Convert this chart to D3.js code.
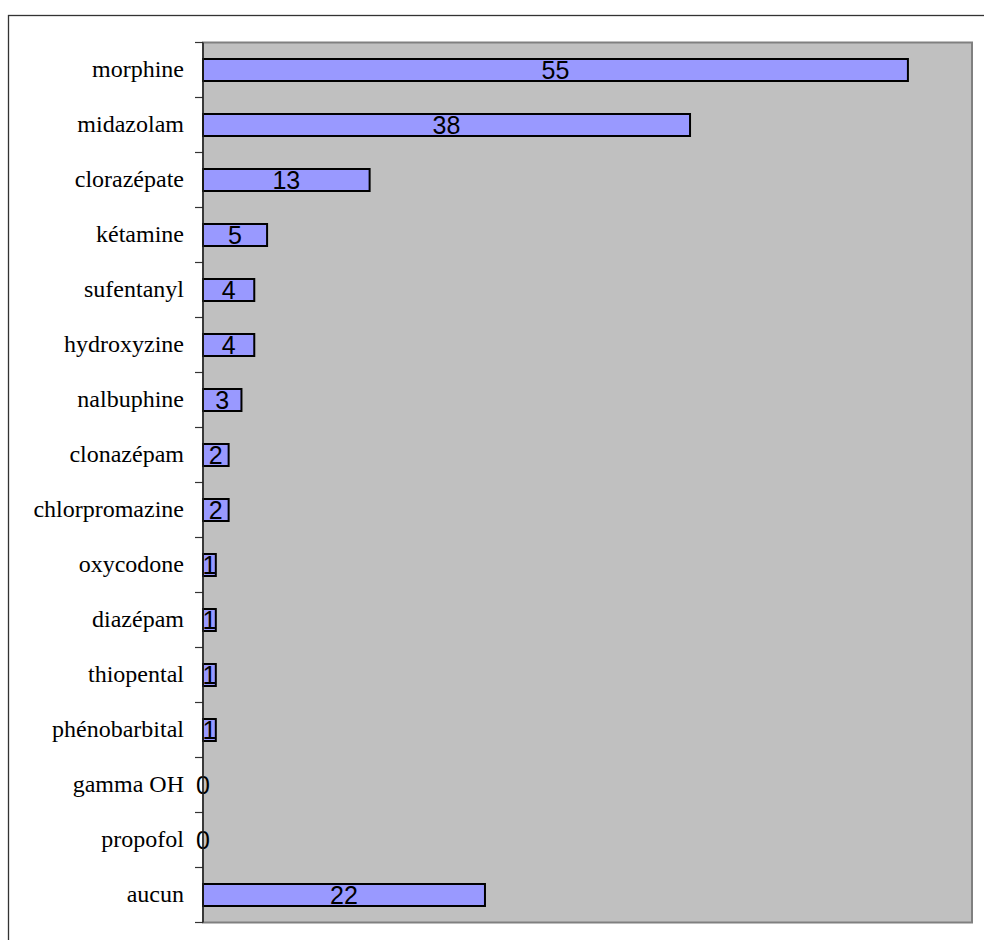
<!DOCTYPE html>
<html>
  <head>
    <meta charset="utf-8" />
    <script src="https://cdn.jsdelivr.net/npm/d3@7"></script>
    <style>
      body { margin: 0; background: #ffffff; }
      .frame { fill: none; stroke: #333333; stroke-width: 1.3; }
      .plot { fill: #c0c0c0; stroke: #808080; stroke-width: 2; }
      .bar { fill: #9999ff; stroke: #000000; stroke-width: 2; }
      .cat text { font-family: "Liberation Serif", "Times New Roman", serif; font-size: 24px; fill: #000; }
      .val { font-family: "Liberation Sans", Arial, sans-serif; font-size: 25px; fill: #000; }
    </style>
  </head>
  <body>
    <div id="chart"></div>
    <script type="text/javascript">
      var w = 984, h = 940;

      var categories = ["morphine", "midazolam", "clorazépate", "kétamine", "sufentanyl",
        "hydroxyzine", "nalbuphine", "clonazépam", "chlorpromazine", "oxycodone",
        "diazépam", "thiopental", "phénobarbital", "gamma OH", "propofol", "aucun"];
      var values = [55, 38, 13, 5, 4, 4, 3, 2, 2, 1, 1, 1, 1, 0, 0, 22];
      var xDomain = [0, 60];

      var plotLeft = 203, plotRight = 972, plotTop = 42.5, plotBottom = 922.5;

      var svg = d3.select("#chart")
        .append("svg")
        .attr("width", w)
        .attr("height", h);

      svg.append("rect")
        .attr("class", "frame")
        .attr("x", 8.5).attr("y", 15.5)
        .attr("width", 990).attr("height", 960);

      var x = d3.scaleLinear().domain(xDomain).range([plotLeft, plotRight]);
      var y = d3.scaleBand().domain(categories).range([plotTop, plotBottom])
        .paddingInner(0.6).paddingOuter(0.3);

      svg.append("rect")
        .attr("class", "plot")
        .attr("x", plotLeft).attr("y", plotTop)
        .attr("width", plotRight - plotLeft).attr("height", plotBottom - plotTop);

      var rows = categories.map(function(c, i) { return { name: c, value: values[i] }; });

      svg.selectAll("rect.bar").data(rows.filter(function(d) { return d.value > 0; }))
        .enter()
        .append("rect")
        .attr("class", "bar")
        .attr("x", x(0))
        .attr("y", function(d) { return y(d.name); })
        .attr("width", function(d) { return x(d.value) - x(0); })
        .attr("height", y.bandwidth());

      svg.selectAll("text.val").data(rows)
        .enter()
        .append("text")
        .attr("class", "val")
        .attr("text-anchor", "middle")
        .attr("x", function(d) { return (x(0) + x(d.value)) / 2; })
        .attr("y", function(d) { return y(d.name) + y.bandwidth() / 2; })
        .attr("dy", "0.36em")
        .text(function(d) { return d.value; });

      // category labels
      var axis = svg.append("g")
        .attr("class", "cat")
        .attr("transform", "translate(" + plotLeft + ",0)")
        .call(d3.axisLeft(y).tickSize(0).tickPadding(19));
      axis.select(".domain").remove();
      axis.selectAll("text").attr("dy", "0.3em");

      // ticks at band boundaries
      var half = (y.step() - y.bandwidth()) / 2;
      var bounds = categories.map(function(c) { return y(c) - half; }).concat([plotBottom]);
      svg.selectAll("line.tick").data(bounds)
        .enter()
        .append("line")
        .attr("x1", plotLeft - 8).attr("x2", plotLeft)
        .attr("y1", function(d) { return d; })
        .attr("y2", function(d) { return d; })
        .attr("stroke", "#333")
        .attr("stroke-width", 1.2);

      svg.append("line")
        .attr("x1", plotLeft).attr("x2", plotLeft)
        .attr("y1", plotTop).attr("y2", plotBottom)
        .attr("stroke", "#222")
        .attr("stroke-width", 1.5);
    </script>
  </body>
</html>
